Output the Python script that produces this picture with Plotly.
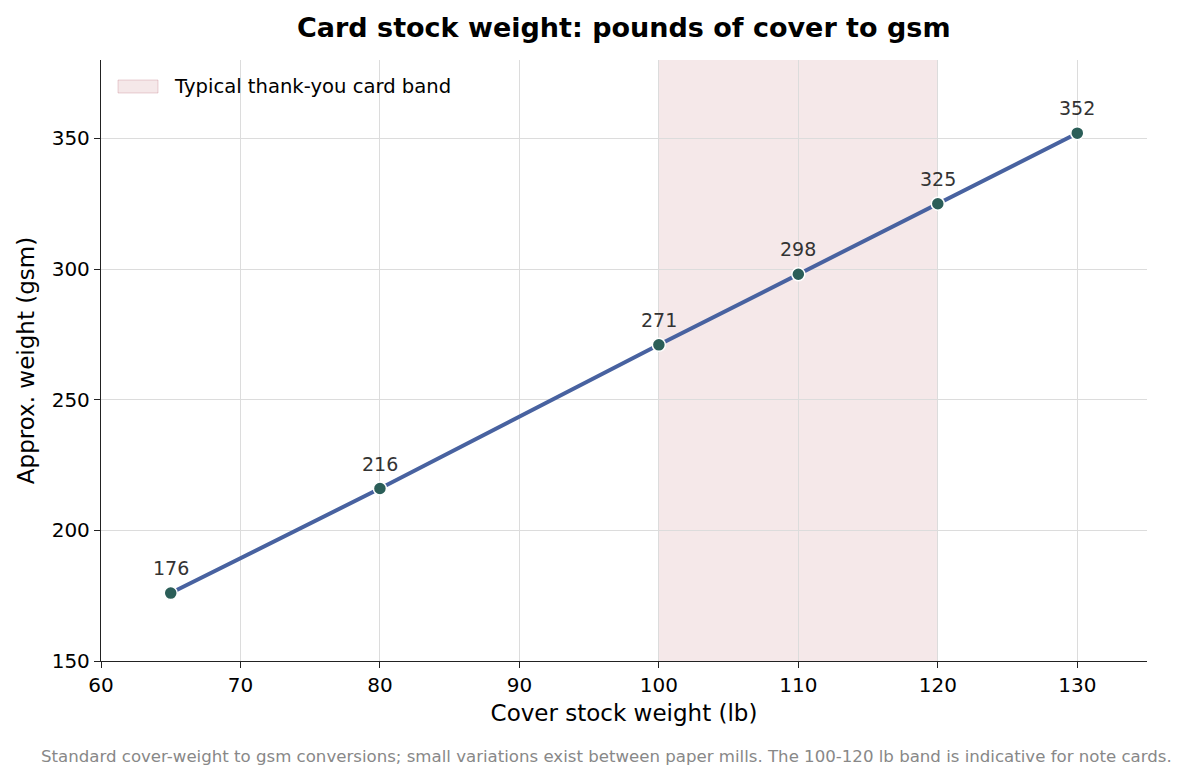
import plotly.graph_objects as go

lb = [65, 80, 100, 110, 120, 130]
gsm = [176, 216, 271, 298, 325, 352]
band = [100, 120]
band_label = "Typical thank-you card band"
title = "Card stock weight: pounds of cover to gsm"
xtitle = "Cover stock weight (lb)"
ytitle = "Approx. weight (gsm)"
note = ("Standard cover-weight to gsm conversions; small variations exist between paper mills. "
        "The 100-120 lb band is indicative for note cards.")

FONT = "DejaVu Sans"
band_fill = "rgba(190,110,120,0.16)"
band_line = "rgba(190,110,120,0.30)"

# page offset of 8px is compensated: plot area at 101..1147 x 60..661 in window
W, H = 1171, 765
L, T = 93, 52
PW, PH = 1046, 601
R = W - L - PW
B = H - T - PH


def px_x(x):
    return (x - 101) / PW


def px_y(y):
    return 1 - (y - 60) / PH


fig = go.Figure()

fig.add_shape(type="rect", xref="x", yref="paper", x0=band[0], x1=band[1], y0=0, y1=1,
              fillcolor=band_fill, line=dict(width=0), layer="between")

fig.add_trace(go.Scatter(
    x=lb, y=gsm, mode="lines+markers",
    line=dict(color="#4862a0", width=4),
    marker=dict(color="#2b5e58", size=13, line=dict(color="white", width=1.5)),
    showlegend=False, hoverinfo="x+y",
))

for xv, yv in zip(lb, gsm):
    fig.add_annotation(x=xv, y=yv, text=str(yv), showarrow=False, yshift=25,
                       font=dict(family=FONT, size=19, color="#333333"))

# legend (drawn manually to match rectangle patch)
fig.add_shape(type="rect", xref="paper", yref="paper",
              x0=px_x(118), x1=px_x(158), y0=px_y(93), y1=px_y(80),
              fillcolor=band_fill, line=dict(color=band_line, width=1), layer="above")
fig.add_annotation(text=band_label, xref="paper", yref="paper", x=px_x(172), y=px_y(86.5),
                   xanchor="left", yanchor="middle", showarrow=False,
                   font=dict(family=FONT, size=19.6, color="black"))

# title
fig.add_annotation(text="<b>" + title + "</b>", xref="paper", yref="paper",
                   x=px_x(624), y=px_y(27), xanchor="center", yanchor="middle",
                   showarrow=False, font=dict(family=FONT, size=27, color="black"))

fig.update_layout(
    width=W, height=H,
    margin=dict(l=L, r=R, t=T, b=B),
    paper_bgcolor="white", plot_bgcolor="white",
    font=dict(family=FONT, size=20, color="black"),
    showlegend=False,
)

fig.update_xaxes(range=[60, 135], tickvals=[60, 70, 80, 90, 100, 110, 120, 130],
                 showgrid=True, gridcolor="#dcdcdc", gridwidth=1.2,
                 showline=True, linecolor="#222222", linewidth=1.3,
                 ticks="outside", ticklen=6, tickcolor="#222222",
                 zeroline=False,
                 title=dict(text=xtitle, font=dict(family=FONT, size=23), standoff=8),
                 tickfont=dict(family=FONT, size=20))
fig.update_yaxes(range=[150, 380], tickvals=[150, 200, 250, 300, 350],
                 showgrid=True, gridcolor="#dcdcdc", gridwidth=1.2,
                 showline=True, linecolor="#222222", linewidth=1.3,
                 ticks="outside", ticklen=6, tickcolor="#222222",
                 zeroline=False,
                 title=dict(text=ytitle, font=dict(family=FONT, size=23), standoff=10),
                 tickfont=dict(family=FONT, size=20))

fig.add_annotation(text=note, xref="paper", yref="paper", x=px_x(606),
                   y=px_y(756), xanchor="center", yanchor="middle", showarrow=False,
                   font=dict(family=FONT, size=16.6, color="#888888"))

fig.write_html("out.html")
